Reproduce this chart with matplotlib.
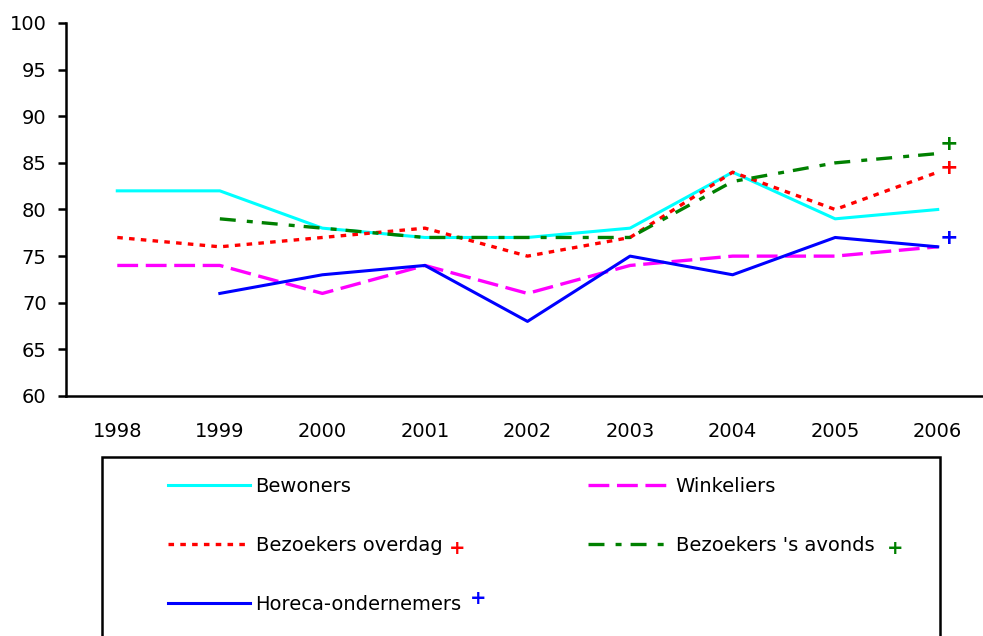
import matplotlib
matplotlib.use("Agg")
import matplotlib.pyplot as plt
from matplotlib.patches import Rectangle

plt.rcParams["font.family"] = ["DejaVu Sans"]
plt.rcParams["lines.scale_dashes"] = False

# ── Data ─────────────────────────────────────────────────────────────────────
years = ["1998", "1999", "2000", "2001", "2002", "2003", "2004", "2005", "2006"]
bewoners   = [82, 82, 78, 77, 77, 78, 84, 79, 80]
winkeliers = [74, 74, 71, 74, 71, 74, 75, 75, 76]
overdag    = [77, 76, 77, 78, 75, 77, 84, 80, 84]
avonds     = [None, 79, 78, 77, 77, 77, 83, 85, 86]
horeca     = [None, 71, 73, 74, 68, 75, 73, 77, 76]

CYAN, MAGENTA, RED, GREEN, BLUE = "#00FFFF", "#FF00FF", "#FF0000", "#008000", "#0000FF"
FS = 14


def xy(vals):
    pts = [(i, v) for i, v in enumerate(vals) if v is not None]
    return [p[0] for p in pts], [p[1] for p in pts]


fig = plt.figure(figsize=(9.83, 6.36), dpi=100)
ax = fig.add_axes([66 / 983, 240 / 636, 923 / 983, 373 / 636])

l_bew, = ax.plot(*xy(bewoners), color=CYAN, lw=2.2, label="Bewoners")
l_win, = ax.plot(*xy(winkeliers), color=MAGENTA, lw=2.4, dashes=(15, 5.5),
                 label="Winkeliers")
l_ovd, = ax.plot(*xy(overdag), color=RED, lw=2.4, dashes=(4, 4.5),
                 label="Bezoekers overdag")
l_avo, = ax.plot(*xy(avonds), color=GREEN, lw=2.4, dashes=(11.5, 8, 4.3, 6.5),
                 label="Bezoekers 's avonds")
l_hor, = ax.plot(*xy(horeca), color=BLUE, lw=2.2, label="Horeca-ondernemers")

# significance markers next to the 2006 values
for vals, col, dy in [(avonds, GREEN, 7), (overdag, RED, 3), (horeca, BLUE, 6)]:
    ax.annotate("+", xy=(8, vals[-1]), xytext=(8, dy), textcoords="offset points",
                ha="center", va="center", color=col, fontsize=16,
                fontweight="bold", annotation_clip=False)

ax.set_xlim(-0.5, 8.5)
ax.set_ylim(60, 100)
ax.set_yticks(range(60, 101, 5))
ax.set_xticks(range(len(years)))
ax.set_xticklabels(years)
for s in ["top", "right"]:
    ax.spines[s].set_visible(False)
for s in ["left", "bottom"]:
    ax.spines[s].set_linewidth(1.8)
ax.tick_params(axis="y", length=6, width=1.8, pad=8, labelsize=FS)
ax.tick_params(axis="x", length=0, pad=19, labelsize=FS)

# ── Legend ────────────────────────────────────────────────────────────────────
fig.patches.append(Rectangle((102 / 983, -0.05), 838 / 983, 0.05 + 1 - 457 / 636,
                             transform=fig.transFigure, fill=False,
                             edgecolor="black", lw=1.8))
leg = fig.legend(handles=[l_bew, l_ovd, l_hor, l_win, l_avo], ncol=2,
                 loc="upper left", bbox_to_anchor=(168 / 983, 1 - 477 / 636),
                 frameon=False, fontsize=FS, borderpad=0, borderaxespad=0,
                 handlelength=4.2, handletextpad=0.3, labelspacing=2.05,
                 columnspacing=6.5)

fig.canvas.draw()
inv = fig.transFigure.inverted()
texts = {t.get_text(): t for t in leg.get_texts()}
for name, col, dx, dy in [("Bezoekers overdag", RED, 15, -3),
                          ("Horeca-ondernemers", BLUE, 16, 6),
                          ("Bezoekers 's avonds", GREEN, 21, -3)]:
    bb = texts[name].get_window_extent()
    fx, fy = inv.transform((bb.x1 + dx, (bb.y0 + bb.y1) / 2 + dy))
    fig.text(fx, fy, "+", ha="center", va="center", color=col,
             fontsize=14, fontweight="bold")

fig.savefig("out.png", dpi=100)
